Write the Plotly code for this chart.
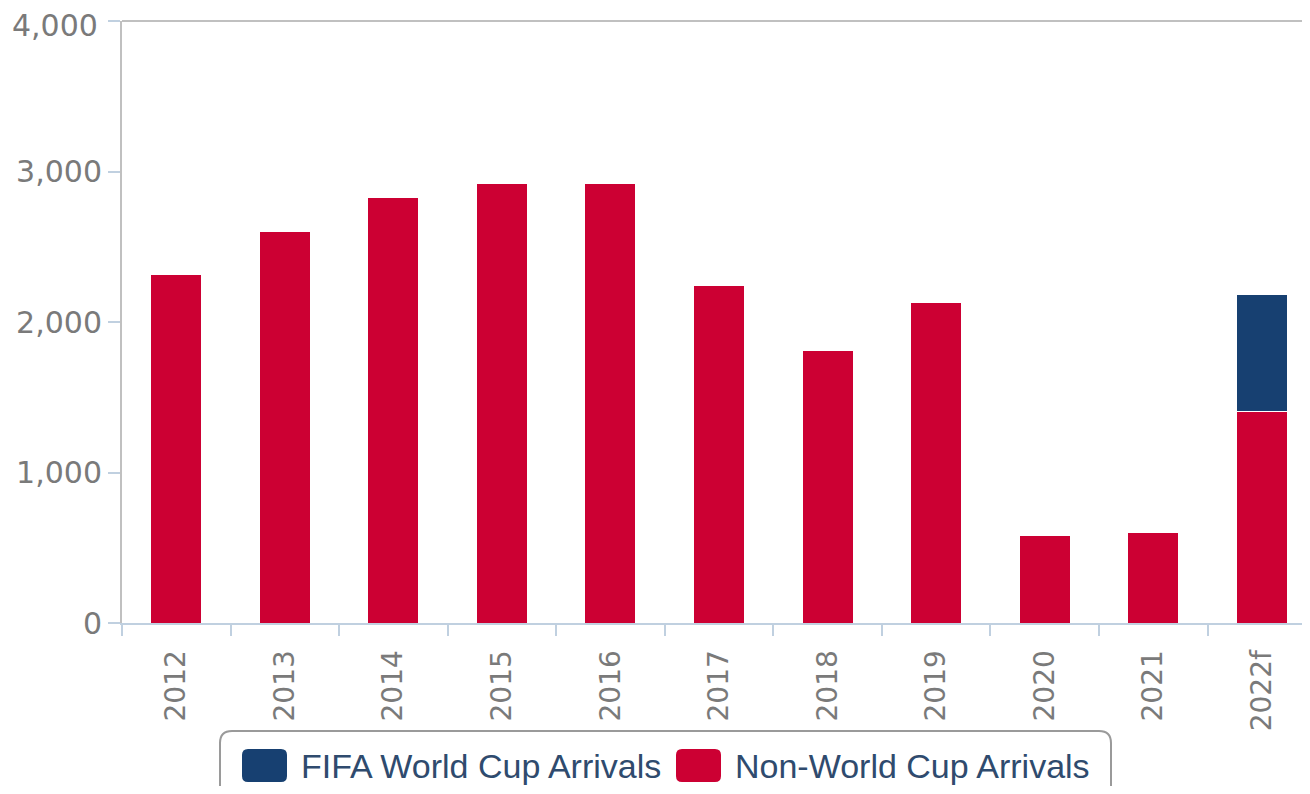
import plotly.graph_objects as go

years = ["2012", "2013", "2014", "2015", "2016", "2017", "2018", "2019", "2020", "2021", "2022f"]
non_wc = [2316, 2602, 2829, 2922, 2922, 2243, 1810, 2130, 579, 599, 1404]
wc = [0, 0, 0, 0, 0, 0, 0, 0, 0, 0, 779]
y_ticks = [0, 1000, 2000, 3000, 4000]
y_ticktext = ["0", "1,000", "2,000", "3,000", "4,000"]
legend_names = ["FIFA World Cup Arrivals", "Non-World Cup Arrivals"]

RED = "#CC0033"
BLUE = "#174071"
TICK_FONT = dict(family="DejaVu Sans", size=30, color="#7a7a7a")

OFF = 8  # page offset of the figure in the screenshot
W, H = 1310 - OFF, 794 - 2 * OFF
ML, MR, MT = 122 - OFF, 0, 21 - OFF
MB = H - (623 - OFF)
PW, PH = W - ML - MR, H - MT - MB
CAT_W = 108.55  # px per category in the reference
X_MAX = -0.5 + PW / CAT_W


def px(x):
    return (x - OFF - ML) / PW


def py(y):
    return (H - MB - (y - OFF)) / PH


fig = go.Figure()
fig.add_trace(go.Bar(x=years, y=non_wc, name=legend_names[1], showlegend=False,
                     marker=dict(color=RED, line=dict(color="white", width=1))))
fig.add_trace(go.Bar(x=years, y=wc, name=legend_names[0], showlegend=False,
                     marker=dict(color=BLUE, line=dict(color="white", width=1))))

fig.update_layout(
    width=W, height=H,
    margin=dict(l=ML, r=MR, t=MT, b=MB),
    barmode="stack", bargap=0.53,
    plot_bgcolor="white", paper_bgcolor="white",
    showlegend=False,
    xaxis=dict(type="category", range=[-0.5, X_MAX], automargin=False,
               tickangle=-90, tickfont=dict(family="DejaVu Sans", size=28, color="#7a7a7a"),
               ticklabelstandoff=14,
               showline=True, linecolor="#c0d0e0", linewidth=2,
               ticks="outside", tickson="boundaries", ticklen=11, tickcolor="#c0d0e0", tickwidth=2,
               showgrid=False, zeroline=False),
    yaxis=dict(range=[0, 4000], tickvals=y_ticks, ticktext=y_ticktext[:-1] + [""],
               automargin=False, tickfont=TICK_FONT,
               showline=True, linecolor="#c0c0c0", linewidth=2,
               ticks="outside", ticklen=12, tickcolor="#c0d0e0", tickwidth=2,
               showgrid=False, zeroline=False),
)
# top tick label, nudged down slightly as in the reference
fig.add_annotation(xref="paper", yref="y", x=px(100), y=y_ticks[-1], yshift=-4,
                   xanchor="right", yanchor="middle", text=y_ticktext[-1],
                   showarrow=False, font=TICK_FONT)
fig.add_shape(type="line", xref="paper", yref="paper", x0=0, x1=1, y0=1, y1=1,
              line=dict(color="#c0c0c0", width=2))


def rrect(x0, y0, x1, y1, r):
    rx, ry = r / PW, r / PH
    X0, X1 = px(x0), px(x1)
    Y0, Y1 = py(y0), py(y1)  # Y0 top, Y1 bottom
    return (f"M{X0 + rx},{Y0} L{X1 - rx},{Y0} Q{X1},{Y0} {X1},{Y0 - ry} "
            f"L{X1},{Y1 + ry} Q{X1},{Y1} {X1 - rx},{Y1} L{X0 + rx},{Y1} "
            f"Q{X0},{Y1} {X0},{Y1 + ry} L{X0},{Y0 - ry} Q{X0},{Y0} {X0 + rx},{Y0} Z")


# legend box
fig.add_shape(type="path", xref="paper", yref="paper", path=rrect(220, 731, 1111, 812, 12),
              line=dict(color="#9a9a9a", width=2), fillcolor="white")
# legend items
items = [(242, 302, BLUE, legend_names[0]), (676, 736, RED, legend_names[1])]
for sx, tx, col, name in items:
    fig.add_shape(type="path", xref="paper", yref="paper", path=rrect(sx, 749, sx + 45, 782, 6),
                  line=dict(width=0), fillcolor=col)
    fig.add_annotation(xref="paper", yref="paper", x=px(tx - 3), y=py(766), xanchor="left",
                       yanchor="middle", text=name, showarrow=False,
                       font=dict(family="Liberation Sans", size=34, color="#2f4b6e"))

fig.write_html("out.html")
